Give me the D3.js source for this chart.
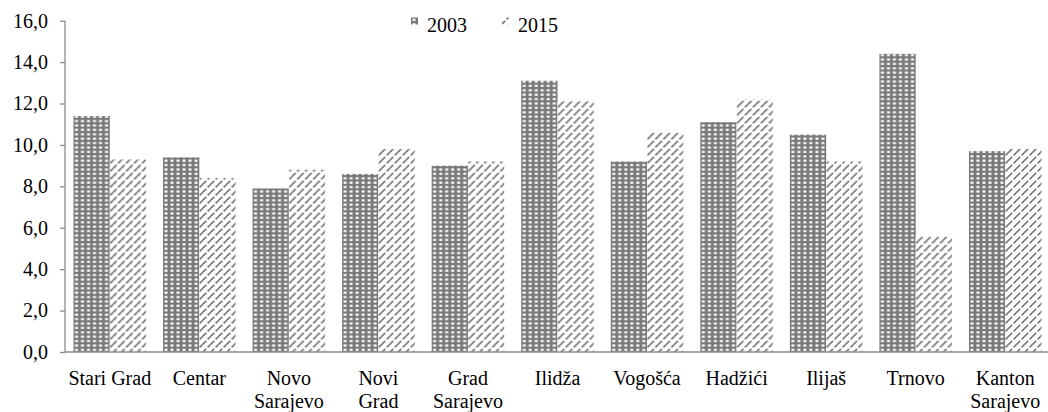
<!DOCTYPE html>
<html>
<head>
<meta charset="utf-8">
<script src="https://cdn.jsdelivr.net/npm/d3@7"></script>
<style>
  body { margin: 0; background: #fff; }
  text { font-family: "Liberation Serif", "Times New Roman", serif; fill: #000; }
</style>
</head>
<body>
<div id="chart"></div>
<script>
// categories (label lines)
var categories = ["Stari Grad", "Centar", "Novo Sarajevo", "Novi Grad", "Grad Sarajevo",
                  "Ilidža", "Vogošća", "Hadžići", "Ilijaš", "Trnovo", "Kanton Sarajevo"];
var labelLines = [["Stari Grad"], ["Centar"], ["Novo", "Sarajevo"], ["Novi", "Grad"], ["Grad", "Sarajevo"],
                  ["Ilidža"], ["Vogošća"], ["Hadžići"], ["Ilijaš"], ["Trnovo"], ["Kanton", "Sarajevo"]];
var series = ["2003", "2015"];
var values2003 = [11.4, 9.4, 7.9, 8.6, 9.0, 13.1, 9.2, 11.1, 10.5, 14.4, 9.7];
var values2015 = [9.3, 8.4, 8.8, 9.8, 9.2, 12.1, 10.6, 12.2, 9.2, 5.6, 9.8];
var yTicks = [0, 2, 4, 6, 8, 10, 12, 14, 16];

var width = 1048, height = 412;
var margin = {top: 20.7, right: 0, bottom: 60, left: 65};
var serif = "'Liberation Serif', 'Times New Roman', serif";

var svg = d3.select("#chart").append("svg")
    .attr("width", width)
    .attr("height", height);

// patterns
var defs = svg.append("defs");
var grid = defs.append("pattern")
    .attr("id", "p2003")
    .attr("patternUnits", "userSpaceOnUse")
    .attr("width", 6).attr("height", 4.4);
grid.append("rect").attr("width", 6).attr("height", 4.4).attr("fill", "#787878");
grid.append("rect").attr("x", 1.5).attr("y", 1.2).attr("width", 3).attr("height", 2.2).attr("fill", "#fff");

var hatch = defs.append("pattern")
    .attr("id", "p2015")
    .attr("patternUnits", "userSpaceOnUse")
    .attr("width", 8).attr("height", 8);
hatch.append("rect").attr("width", 8).attr("height", 8).attr("fill", "#fff");
hatch.append("path")
    .attr("d", "M0,8 L8,0 M-2,2 L2,-2 M6,10 L10,6")
    .attr("stroke", "#7a7a7a")
    .attr("stroke-width", 1.7)
    .attr("stroke-dasharray", "4.5,2");

var fills = {"2003": "url(#p2003)", "2015": "url(#p2015)"};

var x = d3.scaleBand()
    .domain(categories)
    .range([margin.left, 1050])
    .paddingInner(0.19)
    .paddingOuter(0.095);

var xSub = d3.scaleBand()
    .domain(series)
    .range([0, x.bandwidth()]);

var y = d3.scaleLinear()
    .domain([0, 16])
    .range([352, margin.top]);

var data = categories.map(function(c, i) {
  return {cat: c, vals: [{s: "2003", v: values2003[i]}, {s: "2015", v: values2015[i]}]};
});

// bars
var groups = svg.selectAll(".grp")
    .data(data)
    .enter().append("g")
    .attr("class", "grp")
    .attr("transform", function(d) { return "translate(" + x(d.cat) + ",0)"; });

groups.selectAll("rect")
    .data(function(d) { return d.vals; })
    .enter().append("rect")
    .attr("x", function(d) { return xSub(d.s); })
    .attr("width", xSub.bandwidth())
    .attr("y", function(d) { return y(d.v); })
    .attr("height", function(d) { return y(0) - y(d.v); })
    .attr("fill", function(d) { return fills[d.s]; });

// y axis
var yAxis = d3.axisLeft(y)
    .tickValues(yTicks)
    .tickSize(5)
    .tickPadding(12)
    .tickFormat(function(d) { return d3.format(".1f")(d).replace(".", ","); });

var yg = svg.append("g")
    .attr("transform", "translate(" + margin.left + ",0)")
    .call(yAxis)
    .attr("font-family", serif)
    .attr("font-size", 20);
yg.select(".domain").attr("stroke", "#8c8c8c").attr("stroke-width", 1.3)
    .attr("d", "M0," + y(16) + "V" + y(0));
yg.selectAll(".tick line").attr("stroke", "#8c8c8c").attr("stroke-width", 1.3);
yg.selectAll(".tick text").attr("fill", "#000");

// x axis line
svg.append("line")
    .attr("x1", margin.left).attr("x2", width)
    .attr("y1", y(0)).attr("y2", y(0))
    .attr("stroke", "#8c8c8c").attr("stroke-width", 1.3);

// category labels
svg.selectAll(".xlab")
    .data(labelLines)
    .enter().append("text")
    .attr("class", "xlab")
    .attr("text-anchor", "middle")
    .style("font-size", "20px")
    .attr("transform", function(d, i) {
      return "translate(" + (x(categories[i]) + x.bandwidth() / 2) + ",385)";
    })
    .selectAll("tspan")
    .data(function(d) { return d; })
    .enter().append("tspan")
    .attr("x", 0)
    .attr("y", function(d, i) { return i * 23; })
    .text(function(d) { return d; });

// legend
var legendX = [411, 502];
var legend = svg.selectAll(".leg")
    .data(series)
    .enter().append("g")
    .attr("class", "leg")
    .attr("transform", function(d, i) { return "translate(" + legendX[i] + ",0)"; });
legend.append("rect")
    .attr("x", 0).attr("y", 17.5)
    .attr("width", 7).attr("height", 7)
    .attr("fill", function(d) { return fills[d]; });
legend.append("text")
    .attr("x", 16).attr("y", 31.5)
    .style("font-size", "20px")
    .text(function(d) { return d; });
</script>
</body>
</html>
